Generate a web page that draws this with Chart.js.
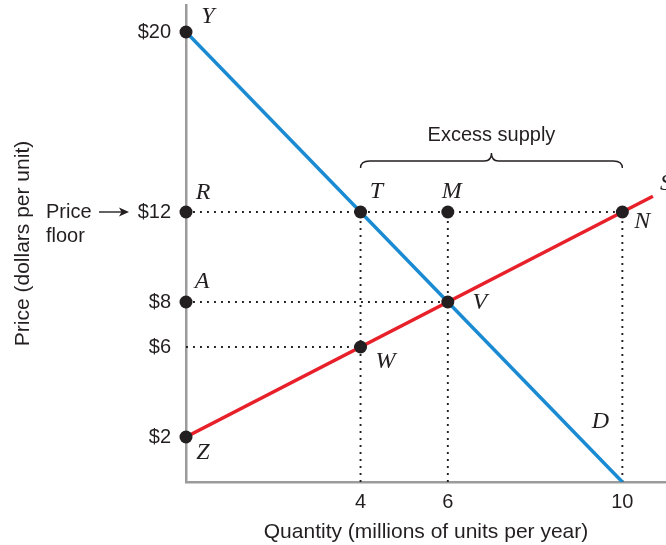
<!DOCTYPE html>
<html>
<head>
<meta charset="utf-8">
<script src="https://cdn.jsdelivr.net/npm/chart.js@4/dist/chart.umd.min.js"></script>
<style>
  html, body { margin: 0; padding: 0; background: #fff; }
  #wrap { width: 666px; height: 545px; }
</style>
</head>
<body>
<div id="wrap"><canvas id="c" width="666" height="545"></canvas></div>
<script>
// Price floor diagram: demand, supply, and the guide lines at the floor price.
const quantityTicks = [4, 6, 10];
const priceTicks = [2, 6, 8, 12, 20];

const demandQty = [0, 10];
const demandPrice = [20, 0];
const supplyQty = [0, 10.7];
const supplyPrice = [2, 12.7];

const pointNames = ['Y', 'R', 'T', 'M', 'N', 'A', 'V', 'W', 'Z'];
const pointQty   = [0, 0, 4, 6, 10, 0, 6, 4, 0];
const pointPrice = [20, 12, 12, 12, 12, 8, 8, 6, 2];

// dotted guides: horizontal ones run from the price axis to a quantity,
// vertical ones run from the quantity axis up to a price
const hGuidePrice = [12, 8, 6];
const hGuideQty   = [10, 6, 4];
const vGuideQty   = [4, 6, 10];
const vGuidePrice = [12, 12, 12];

const priceFloor = 12;
const excessFrom = 4;
const excessTo = 10;

const INK = '#231f20';
const SANS = '"Liberation Sans", Arial, sans-serif';
const SERIF = '"Liberation Serif", "Times New Roman", serif';

function line(qs, ps) { return qs.map((q, i) => ({ x: q, y: ps[i] })); }

const guideSets = [];
hGuidePrice.forEach((p, i) => guideSets.push(line([0, hGuideQty[i]], [p, p])));
vGuideQty.forEach((q, i) => guideSets.push(line([q, q], [0, vGuidePrice[i]])));

const datasets = [
  {
    label: 'points',
    type: 'scatter',
    data: line(pointQty, pointPrice),
    pointRadius: 6.5,
    pointHoverRadius: 6.5,
    pointBackgroundColor: INK,
    pointBorderWidth: 0,
    showLine: false,
    clip: false,
    order: 0
  },
  {
    label: 'Supply',
    data: line(supplyQty, supplyPrice),
    borderColor: '#e8202a',
    borderWidth: 3.5,
    pointRadius: 0,
    showLine: true,
    order: 1
  },
  {
    label: 'Demand',
    data: line(demandQty, demandPrice),
    borderColor: '#1a8bd2',
    borderWidth: 3.5,
    pointRadius: 0,
    showLine: true,
    order: 2
  }
];
guideSets.forEach(d => datasets.push({
  label: 'guide',
  data: d,
  borderColor: INK,
  borderWidth: 1.9,
  borderDash: [1.9, 5.1],
  borderCapStyle: 'butt',
  pointRadius: 0,
  showLine: true,
  order: 3
}));

// label placement around each marked point (pixel offsets from the point)
const nameOffsets = {
  Y: [22, -15], R: [17, -19], T: [16, -20], M: [4, -20], N: [20, 10],
  A: [16, -20], V: [32, 1], W: [25, 15], Z: [17, 16]
};

const annotations = {
  id: 'annotations',
  afterDatasetsDraw(chart) {
    const { ctx, scales: { x, y } } = chart;
    ctx.save();
    ctx.fillStyle = INK;
    ctx.strokeStyle = INK;

    // italic point names
    ctx.font = 'italic 24px ' + SERIF;
    ctx.textAlign = 'center';
    ctx.textBaseline = 'middle';
    pointNames.forEach((n, i) => {
      const o = nameOffsets[n];
      ctx.fillText(n, x.getPixelForValue(pointQty[i]) + o[0], y.getPixelForValue(pointPrice[i]) + o[1]);
    });
    // curve names
    const dEnd = demandQty.length - 1;
    ctx.fillText('D', x.getPixelForValue(demandQty[dEnd]) - 22, y.getPixelForValue(demandPrice[dEnd]) - 60);
    const sEnd = supplyQty.length - 1;
    ctx.fillText('S', x.getPixelForValue(supplyQty[sEnd]) + 13, y.getPixelForValue(supplyPrice[sEnd]) - 13);

    // brace over the excess supply
    const x1 = x.getPixelForValue(excessFrom);
    const x2 = x.getPixelForValue(excessTo);
    const base = y.getPixelForValue(priceFloor) - 44;
    const mid = (x1 + x2) / 2;
    const top = base - 7;
    ctx.lineWidth = 1.4;
    ctx.beginPath();
    ctx.moveTo(x1, base);
    ctx.quadraticCurveTo(x1, top, x1 + 9, top);
    ctx.lineTo(mid - 7, top);
    ctx.quadraticCurveTo(mid, top, mid, top - 8);
    ctx.quadraticCurveTo(mid, top, mid + 7, top);
    ctx.lineTo(x2 - 9, top);
    ctx.quadraticCurveTo(x2, top, x2, base);
    ctx.stroke();
    ctx.font = '20px ' + SANS;
    ctx.fillText('Excess supply', mid, top - 26);

    // price floor callout
    const yf = y.getPixelForValue(priceFloor);
    ctx.textAlign = 'left';
    ctx.fillText('Price', 46, yf);
    ctx.fillText('floor', 46, yf + 24);
    ctx.lineWidth = 1.4;
    ctx.beginPath();
    ctx.moveTo(99, yf);
    ctx.lineTo(122, yf);
    ctx.stroke();
    ctx.beginPath();
    ctx.moveTo(129, yf);
    ctx.lineTo(119, yf - 4.5);
    ctx.lineTo(121.5, yf);
    ctx.lineTo(119, yf + 4.5);
    ctx.closePath();
    ctx.fill();
    ctx.restore();
  }
};

// keep the plot area fixed: no extra room reserved for edge tick labels
function noEdgePadding(s) {
  s.paddingTop = 0;
  s.paddingBottom = 0;
  s.paddingLeft = 0;
  s.paddingRight = 0;
}

new Chart(document.getElementById('c'), {
  type: 'line',
  data: { datasets },
  plugins: [annotations],
  options: {
    responsive: false,
    animation: false,
    events: [],
    layout: { autoPadding: false, padding: { top: 5, right: 0, left: 0, bottom: 0 } },
    plugins: { legend: { display: false }, tooltip: { enabled: false } },
    scales: {
      x: {
        type: 'linear',
        min: 0,
        max: 11,
        afterFit(s) { s.height = 63; noEdgePadding(s); },
        afterBuildTicks(s) { s.ticks = quantityTicks.map(v => ({ value: v })); },
        grid: { display: false, drawTicks: false },
        border: { display: true, color: '#9b9b9b', width: 2.5 },
        ticks: { color: INK, font: { family: SANS, size: 20 }, padding: 8, maxRotation: 0, autoSkip: false },
        title: {
          display: true,
          text: 'Quantity (millions of units per year)',
          color: INK,
          font: { family: SANS, size: 21 },
          padding: { top: 0, bottom: 0 }
        }
      },
      y: {
        type: 'linear',
        min: 0,
        max: 21.2,
        afterFit(s) { s.width = 186; noEdgePadding(s); },
        afterBuildTicks(s) { s.ticks = priceTicks.map(v => ({ value: v })); },
        grid: { display: false, drawTicks: false },
        border: { display: true, color: '#9b9b9b', width: 2.5 },
        ticks: {
          color: INK,
          font: { family: SANS, size: 20 },
          padding: 15,
          autoSkip: false,
          callback: v => '$' + v
        },
        title: {
          display: true,
          text: 'Price (dollars per unit)',
          color: INK,
          font: { family: SANS, size: 21 },
          padding: { top: 11, bottom: 0 }
        }
      }
    }
  }
});
</script>
</body>
</html>
